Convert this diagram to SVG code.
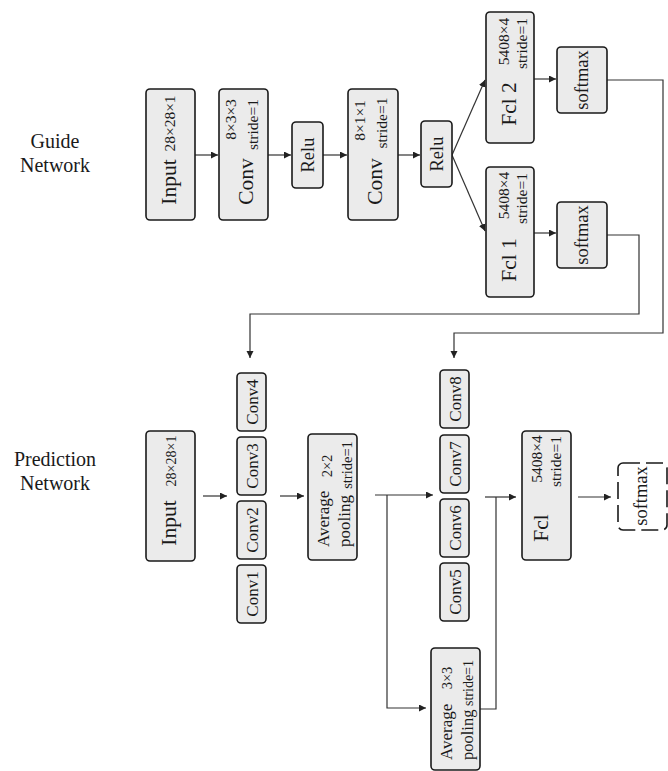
<svg xmlns="http://www.w3.org/2000/svg" width="668" height="771" viewBox="0 0 668 771">
<defs>
<marker id="ah" markerUnits="userSpaceOnUse" markerWidth="8" markerHeight="8" refX="7" refY="3.5" orient="auto"><path d="M0,0 L7,3.5 L0,7 z" fill="#222"/></marker>
<style>
.box{fill:#ebebeb;stroke:#1a1a1a;stroke-width:1.6}
.dbox{fill:#fff;stroke:#1a1a1a;stroke-width:1.6;stroke-dasharray:17 6}
.t{font-family:"Liberation Serif","Times New Roman",serif;fill:#1a1a1a;text-anchor:middle}
.s{text-anchor:start}
.big{font-size:21.5px}
.mid{font-size:18.5px}
.cv{font-size:17px}
.sm{font-size:15.5px}
.xs{font-size:14.5px}
.lbl{font-size:20px}
.c{fill:none;stroke:#333;stroke-width:1.2}
.a{marker-end:url(#ah)}
</style>
</defs>
<rect width="668" height="771" fill="#fff"/>
<g id="labels">
<text class="t lbl" x="55" y="148">Guide</text>
<text class="t lbl" x="55" y="172">Network</text>
<text class="t lbl" x="55" y="466">Prediction</text>
<text class="t lbl" x="55" y="490">Network</text>
</g>
<g id="connectors">
<path class="c a" d="M195,155 H218"/>
<path class="c a" d="M268,155 H291"/>
<path class="c a" d="M323,155 H347"/>
<path class="c a" d="M398,155 H420"/>
<path class="c a" d="M452,155 L485,80"/>
<path class="c a" d="M452,155 L485,231"/>
<path class="c a" d="M534,79 H556"/>
<path class="c a" d="M534,233 H556"/>
<path class="c a" d="M607,80 H663 V333 H454 V358"/>
<path class="c a" d="M607,235 H639 V314 H250 V358"/>
<path class="c a" d="M203,496 H227"/>
<path class="c a" d="M280,496 H304"/>
<path class="c a" d="M375,495 H433"/>
<path class="c a" d="M387,495 V708 H426"/>
<path class="c" d="M480,709 H496 V497"/>
<path class="c a" d="M485,497 H516"/>
<path class="c a" d="M578,497 H611"/>
</g>
<g id="g-input">
<rect class="box" x="146" y="89" width="49" height="131" rx="4"/>
<text class="t big" transform="translate(176,182) rotate(-90)">Input</text>
<text class="t sm" transform="translate(175,123.5) rotate(-90)">28×28×1</text>
</g>
<g id="g-conv1">
<rect class="box" x="219" y="89" width="49" height="131" rx="4"/>
<text class="t big" transform="translate(253,181.5) rotate(-90)">Conv</text>
<text class="t sm" transform="translate(236,119.5) rotate(-90)">8×3×3</text>
<text class="t sm" transform="translate(258,124.5) rotate(-90)">stride=1</text>
</g>
<g id="g-relu1">
<rect class="box" x="292" y="122" width="31" height="66" rx="4"/>
<text class="t mid" transform="translate(313.5,155) rotate(-90)">Relu</text>
</g>
<g id="g-conv2">
<rect class="box" x="348" y="89" width="50" height="131" rx="4"/>
<text class="t big" transform="translate(382,181.5) rotate(-90)">Conv</text>
<text class="t sm" transform="translate(365,120.5) rotate(-90)">8×1×1</text>
<text class="t sm" transform="translate(387,123) rotate(-90)">stride=1</text>
</g>
<g id="g-relu2">
<rect class="box" x="421" y="121" width="31" height="66" rx="4"/>
<text class="t mid" transform="translate(442.5,154) rotate(-90)">Relu</text>
</g>
<g id="g-fcl2">
<rect class="box" x="486" y="12" width="48" height="131" rx="4"/>
<text class="t big" transform="translate(516,104) rotate(-90)">Fcl 2</text>
<text class="t sm" transform="translate(509,41.5) rotate(-90)">5408×4</text>
<text class="t sm" transform="translate(527,43.5) rotate(-90)">stride=1</text>
</g>
<g id="g-softmax2">
<rect class="box" x="557" y="47" width="50" height="66" rx="4"/>
<text class="t mid" transform="translate(588,80) rotate(-90)">softmax</text>
</g>
<g id="g-fcl1">
<rect class="box" x="486" y="167" width="48" height="130" rx="4"/>
<text class="t big" transform="translate(516,260) rotate(-90)">Fcl 1</text>
<text class="t sm" transform="translate(509,195.5) rotate(-90)">5408×4</text>
<text class="t sm" transform="translate(527,198.5) rotate(-90)">stride=1</text>
</g>
<g id="g-softmax1">
<rect class="box" x="557" y="202" width="50" height="66" rx="4"/>
<text class="t mid" transform="translate(588,235) rotate(-90)">softmax</text>
</g>
<g id="p-input">
<rect class="box" x="146" y="431" width="49" height="130" rx="4"/>
<text class="t big" transform="translate(176,523) rotate(-90)">Input</text>
<text class="t" style="font-size:14px" transform="translate(176,461) rotate(-90)">28×28×1</text>
</g>
<g id="p-conv4"><rect class="box" x="237" y="373" width="29" height="58" rx="4"/><text class="t cv" transform="translate(257.5,402) rotate(-90)">Conv4</text></g>
<g id="p-conv3"><rect class="box" x="237" y="437" width="29" height="58" rx="4"/><text class="t cv" transform="translate(257.5,466) rotate(-90)">Conv3</text></g>
<g id="p-conv2"><rect class="box" x="237" y="501" width="29" height="58" rx="4"/><text class="t cv" transform="translate(257.5,530) rotate(-90)">Conv2</text></g>
<g id="p-conv1"><rect class="box" x="237" y="565" width="29" height="58" rx="4"/><text class="t cv" transform="translate(257.5,594) rotate(-90)">Conv1</text></g>
<g id="p-avgpool1">
<rect class="box" x="308" y="434" width="49" height="126" rx="4"/>
<text class="t cv s" transform="translate(329,547) rotate(-90)">Average</text>
<text class="t cv s" transform="translate(350,547) rotate(-90)">pooling</text>
<text class="t xs" transform="translate(332,466) rotate(-90)">2×2</text>
<text class="t xs" transform="translate(352,465) rotate(-90)">stride=1</text>
</g>
<g id="p-conv8"><rect class="box" x="440" y="370" width="29" height="58" rx="4"/><text class="t cv" transform="translate(460.5,399) rotate(-90)">Conv8</text></g>
<g id="p-conv7"><rect class="box" x="440" y="435" width="29" height="58" rx="4"/><text class="t cv" transform="translate(460.5,464) rotate(-90)">Conv7</text></g>
<g id="p-conv6"><rect class="box" x="440" y="499" width="29" height="58" rx="4"/><text class="t cv" transform="translate(460.5,528) rotate(-90)">Conv6</text></g>
<g id="p-conv5"><rect class="box" x="440" y="563" width="29" height="58" rx="4"/><text class="t cv" transform="translate(460.5,592) rotate(-90)">Conv5</text></g>
<g id="p-avgpool2">
<rect class="box" x="431" y="648" width="49" height="122" rx="4"/>
<text class="t cv s" transform="translate(452,760) rotate(-90)">Average</text>
<text class="t s" style="font-size:16.5px" transform="translate(473,760) rotate(-90)">pooling</text>
<text class="t xs" transform="translate(452,678) rotate(-90)">3×3</text>
<text class="t" style="font-size:14px" transform="translate(473,683) rotate(-90)">stride=1</text>
</g>
<g id="p-fcl">
<rect class="box" x="522" y="431" width="49" height="129" rx="4"/>
<text class="t big" transform="translate(548,528) rotate(-90)">Fcl</text>
<text class="t sm" transform="translate(542,459) rotate(-90)">5408×4</text>
<text class="t sm" transform="translate(561,461.5) rotate(-90)">stride=1</text>
</g>
<g id="p-softmax">
<rect class="dbox" x="618" y="463" width="49" height="67" rx="5"/>
<text class="t mid" transform="translate(647,496) rotate(-90)">softmax</text>
</g>
</svg>
